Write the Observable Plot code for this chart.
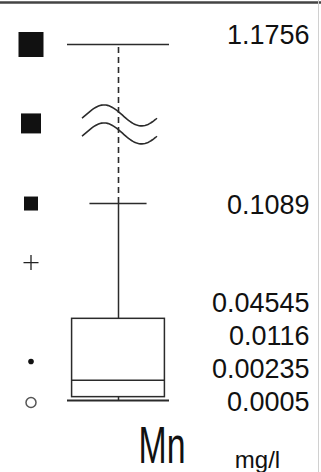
<!DOCTYPE html>
<html><head><meta charset="utf-8">
<script src="https://cdn.jsdelivr.net/npm/d3@7"></script>
<script src="https://cdn.jsdelivr.net/npm/@observablehq/plot@0.6"></script>
<style>
html,body{margin:0;padding:0;background:#fff;}
#chart svg{display:block;}
</style></head><body><div id="chart"></div>
<script>
// ---- data ----
const statNames  = ["max", "p90", "q3", "median", "q1", "min"];
const statValues = [1.1756, 0.1089, 0.04545, 0.0116, 0.00235, 0.0005];
const statLabels = ["1.1756", "0.1089", "0.04545", "0.0116", "0.00235", "0.0005"];
const parameter = "Mn";
const unit = "mg/l";
// legend/class symbols in the left column and their (estimated) levels
const symbolKinds  = ["square", "square", "square", "plus", "dot", "ring"];
const symbolLevels = [1.1756, 0.64, 0.1089, 0.0764, 0.022, 0.0005];
const symbolSizes  = [12.5, 10, 7, 7.5, 2.8, 5];
// axis break
const breakLevel = 0.64;
const BREAK_FROM = 0.11, BREAK_FACTOR = 0.0811;

// ---- helpers ----
const brk = v => v <= BREAK_FROM ? v : BREAK_FROM + (v - BREAK_FROM) * BREAK_FACTOR;
const s = Object.fromEntries(statNames.map((n, i) => [n, statValues[i]]));
const ink = "#2b2b2b";
const font = "'Liberation Sans', Arial, Helvetica, sans-serif";

// stack labels bottom-up so they do not overlap
const GAP = 0.01816;
const order = statValues.map((v, i) => i).sort((a, b) => statValues[a] - statValues[b]);
const labelPos = [];
let prev = -Infinity;
for (const i of order) { const p = Math.max(brk(statValues[i]), prev + GAP); labelPos[i] = p; prev = p; }
const labelData = statLabels.map((t, i) => ({text: t, y: labelPos[i], name: statNames[i]}));

const symbolData = symbolKinds.map((k, i) => ({kind: k, y: brk(symbolLevels[i]), r: symbolSizes[i]}));

// custom symbols: r = half side / half arm
const squareSym = {draw(ctx, size) { const a = Math.sqrt(size / Math.PI); ctx.rect(-a, -a, 2 * a, 2 * a); }};
const plusSym = {draw(ctx, size) { const a = Math.sqrt(size / Math.PI); ctx.moveTo(-a, 0); ctx.lineTo(a, 0); ctx.moveTo(0, -a); ctx.lineTo(0, a); }};

function frameLines(index, scales, values, dims) {
  const g = d3.create("svg:g");
  g.append("line").attr("x1", 0).attr("x2", dims.width).attr("y1", 2.5).attr("y2", 2.5)
    .attr("stroke", "#444").attr("stroke-width", 2.5);
  g.append("line").attr("x1", dims.width - 2.5).attr("x2", dims.width - 2.5).attr("y1", 0).attr("y2", dims.height)
    .attr("stroke", "#d0d0d0").attr("stroke-width", 1);
  return g.node();
}

function breakWave(index, scales) {
  const {x, y} = scales;
  const cx = x(0), cy = y(brk(breakLevel));
  const g = d3.create("svg:g").attr("fill", "none").attr("stroke", ink).attr("stroke-width", 1.6);
  const P = 75, A = 10.5;
  for (const off of [-7.5, 10.5]) {
    const pts = d3.range(0, P + 0.5, 1.5).map(t => [cx - 36 + t, cy + off - A * Math.sin(2 * Math.PI * t / P - 0.272)]);
    g.append("path").attr("d", d3.line()(pts));
  }
  return g.node();
}

const plot = Plot.plot({
  width: 321, height: 472, margin: 0,
  style: {background: "#fff", color: "#111", fontFamily: font},
  x: {domain: [-1, 1], range: [67, 169], axis: null},
  y: {domain: [brk(s.min), brk(s.max)], range: [400, 44], axis: null},
  r: {type: "identity"},
  marks: [
    frameLines,
    // whiskers
    Plot.ruleX([0], {y1: brk(s.p90), y2: brk(s.max), stroke: ink, strokeWidth: 1.6, strokeDasharray: "6,4"}),
    Plot.ruleX([0], {y1: brk(s.q3), y2: brk(s.p90), stroke: ink, strokeWidth: 1.5}),
    Plot.ruleX([0], {y1: brk(s.min), y2: brk(s.q1), stroke: ink, strokeWidth: 1.5}),
    // box + median
    Plot.rect([0], {x1: -0.91, x2: 0.91, y1: brk(s.q1), y2: brk(s.q3), fill: "none", stroke: ink, strokeWidth: 1.5}),
    Plot.ruleY([brk(s.median)], {x1: -0.91, x2: 0.91, stroke: ink, strokeWidth: 1.5}),
    // caps
    Plot.ruleY([brk(s.max)], {x1: -1, x2: 1, stroke: ink, strokeWidth: 1.6}),
    Plot.ruleY([brk(s.p90)], {x1: -0.56, x2: 0.56, stroke: ink, strokeWidth: 1.5}),
    Plot.ruleY([brk(s.min)], {x1: -1, x2: 1, stroke: ink, strokeWidth: 2}),
    breakWave,
    // left column symbols
    Plot.dot(symbolData.filter(d => d.kind === "square"), {y: "y", r: "r", symbol: squareSym, fill: "#111", stroke: "none", frameAnchor: "left", dx: 30.5}),
    Plot.dot(symbolData.filter(d => d.kind === "plus"), {y: "y", r: "r", symbol: plusSym, fill: "none", stroke: "#222", strokeWidth: 1.3, frameAnchor: "left", dx: 30.5}),
    Plot.dot(symbolData.filter(d => d.kind === "dot"), {y: "y", r: "r", fill: "#111", stroke: "none", frameAnchor: "left", dx: 30.5}),
    Plot.dot(symbolData.filter(d => d.kind === "ring"), {y: "y", r: "r", fill: "none", stroke: "#555", strokeWidth: 1.5, frameAnchor: "left", dx: 30.5, dy: 2}),
    // value labels
    Plot.text(labelData.filter(d => d.name !== "max"), {y: "y", text: "text", frameAnchor: "right", dx: -12, dy: 2, textAnchor: "end", fontSize: 27, fill: "#111"}),
    Plot.text(labelData.filter(d => d.name === "max"), {y: "y", text: "text", frameAnchor: "right", dx: -12, dy: -9, textAnchor: "end", fontSize: 27, fill: "#111"}),
    // parameter + unit
    Plot.text([parameter], {frameAnchor: "bottom", lineAnchor: "bottom", dx: 1, dy: -10, textAnchor: "middle", fontSize: 52, fontFamily: "'Liberation Sans Narrow', 'Liberation Sans', sans-serif", fill: "#111"}),
    Plot.text([unit], {frameAnchor: "bottom", lineAnchor: "bottom", dx: 96.5, dy: -5, textAnchor: "middle", fontSize: 24, fill: "#111"})
  ]
});

for (const t of plot.querySelectorAll("text")) {
  if (t.textContent === parameter) { t.setAttribute("textLength", 47); t.setAttribute("lengthAdjust", "spacingAndGlyphs"); }
}
document.getElementById("chart").append(plot);
</script>
</body></html>
